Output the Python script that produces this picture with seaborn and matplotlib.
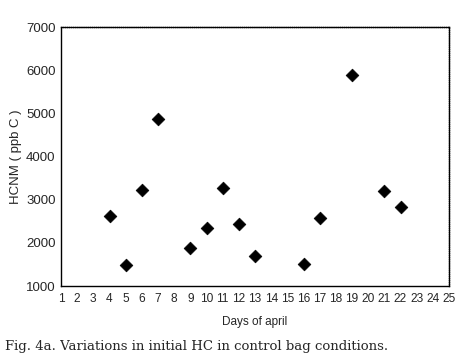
import matplotlib

matplotlib.use("Agg")
import matplotlib.pyplot as plt
import pandas as pd
import seaborn as sns

days = [4, 5, 6, 7, 9, 10, 11, 12, 13, 16, 17, 19, 21, 22]
hcnm = [2630, 1480, 3220, 4860, 1890, 2340, 3270, 2430, 1700, 1510, 2580, 5890, 3210, 2830]
xticks = list(range(1, 26))
yticks = [1000, 2000, 3000, 4000, 5000, 6000, 7000]

df = pd.DataFrame({"day": days, "hcnm": hcnm})

sns.set_style("white")
plt.rcParams["font.family"] = ["Liberation Sans", "DejaVu Sans"]

fig = plt.figure(figsize=(4.57, 3.63), dpi=100)
ax = fig.add_axes([0.1335, 0.212, 0.849, 0.7136])

sns.scatterplot(data=df, x="day", y="hcnm", marker="D", color="black",
                s=42, edgecolor="black", linewidth=0.5, ax=ax)

ax.set_xlim(1, 25)
ax.set_ylim(1000, 7000)
ax.set_xticks(xticks)
ax.set_yticks(yticks)
ax.tick_params(axis="both", length=0, pad=4)
ax.tick_params(axis="x", labelsize=8.6, pad=5)
ax.tick_params(axis="y", labelsize=9.5)
for side in ["top", "right", "bottom", "left"]:
    ax.spines[side].set_color("black")
    ax.spines[side].set_linewidth(1.0)
ax.spines["top"].set_linestyle((0, (1, 0.5)))
ax.spines["right"].set_linestyle((0, (1, 0.5)))

ax.set_xlabel("Days of april", fontsize=8.5, labelpad=8)
ax.set_ylabel("HCNM ( ppb C )", fontsize=9.5, labelpad=3)

fig.text(0.012, 0.045, "Fig. 4a. Variations in initial HC in control bag conditions.",
         family="DejaVu Serif", fontsize=9.5, ha="left", va="center")

fig.savefig("out.png", dpi=100)
